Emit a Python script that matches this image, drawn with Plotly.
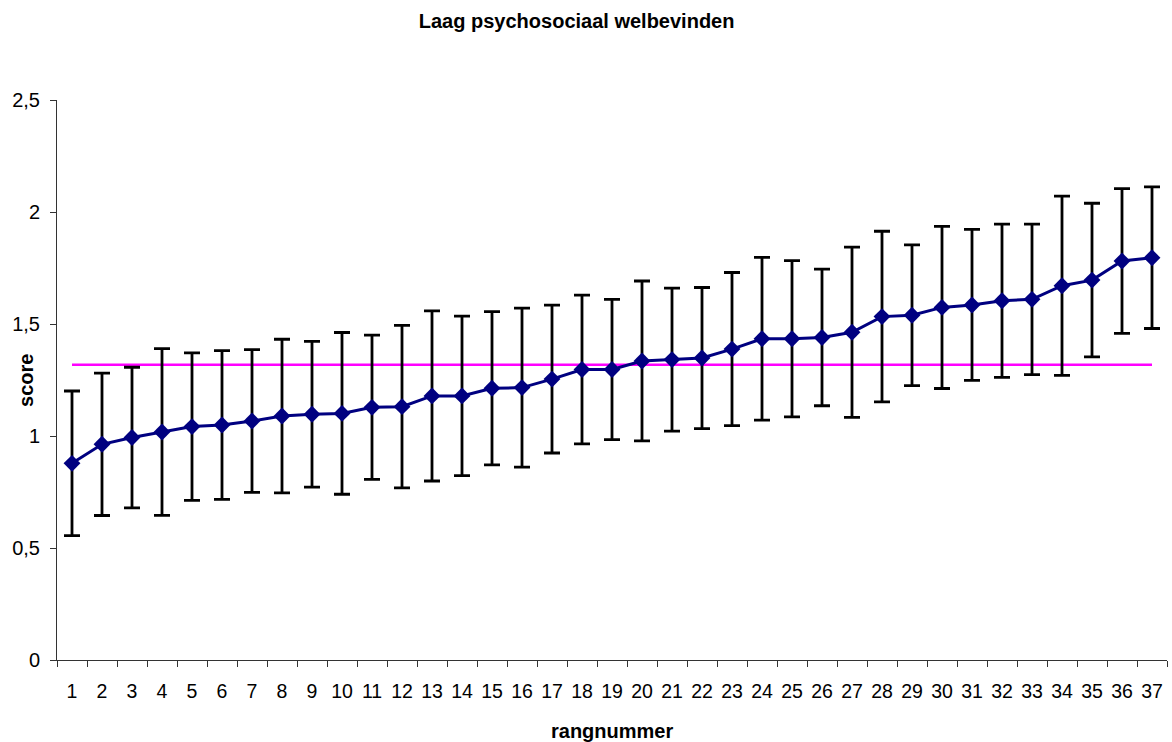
import plotly.graph_objects as go

# Rank numbers on the x axis
ranks = [str(i) for i in range(1, 38)]

# Mean score per rank
scores = [0.878, 0.963, 0.993, 1.018, 1.042, 1.049, 1.067, 1.089, 1.097, 1.101,
          1.128, 1.131, 1.179, 1.179, 1.213, 1.216, 1.254, 1.297, 1.297, 1.335,
          1.341, 1.348, 1.388, 1.434, 1.434, 1.440, 1.463, 1.533, 1.539, 1.574,
          1.585, 1.604, 1.610, 1.671, 1.696, 1.781, 1.796]

# Half-width of the error bar per rank
errors = [0.323, 0.318, 0.314, 0.372, 0.329, 0.332, 0.319, 0.343, 0.325, 0.361,
          0.322, 0.363, 0.380, 0.356, 0.342, 0.355, 0.330, 0.332, 0.313, 0.357,
          0.319, 0.315, 0.342, 0.363, 0.349, 0.305, 0.380, 0.381, 0.314, 0.362,
          0.337, 0.342, 0.336, 0.400, 0.343, 0.323, 0.316]

# Overall reference level
reference_level = 1.318

y_ticks = [0, 0.5, 1, 1.5, 2, 2.5]
y_tick_text = ["0", "0,5", "1", "1,5", "2", "2,5"]

font_family = "Liberation Sans, Arial, sans-serif"

fig = go.Figure()

fig.add_trace(go.Scatter(
    x=ranks,
    y=[reference_level] * len(ranks),
    mode="lines",
    line=dict(color="#FF00FF", width=2.5),
    hoverinfo="skip",
    showlegend=False,
))

fig.add_trace(go.Scatter(
    x=ranks,
    y=scores,
    mode="lines+markers",
    line=dict(color="#000080", width=3),
    marker=dict(symbol="diamond", size=13, color="#000080"),
    error_y=dict(type="data", array=errors, visible=True,
                 color="black", thickness=2.8, width=8),
    showlegend=False,
))

fig.update_layout(
    width=1172,
    height=742,
    margin=dict(l=57, r=5, t=100, b=82),
    paper_bgcolor="white",
    plot_bgcolor="white",
    font=dict(family=font_family, color="black", size=20),
    title=dict(
        text="<b>Laag psychosociaal welbevinden</b>",
        x=0.492, xanchor="center",
        y=0.972, yanchor="middle",
        font=dict(size=20, family=font_family),
    ),
    xaxis=dict(
        type="category",
        range=[-0.5, 36.5],
        tickson="boundaries",
        ticks="outside",
        ticklen=6,
        tickcolor="#333",
        showline=True,
        linecolor="#333",
        linewidth=1,
        showgrid=False,
        zeroline=False,
        tickangle=0,
        tickfont=dict(size=19.5),
        ticklabelstandoff=14,
    ),
    yaxis=dict(
        range=[0, 2.5],
        tickvals=y_ticks,
        ticktext=y_tick_text,
        ticks="outside",
        ticklen=6,
        tickcolor="#333",
        showline=True,
        linecolor="#333",
        linewidth=1,
        showgrid=False,
        zeroline=False,
        tickfont=dict(size=20),
        ticklabelstandoff=6,
    ),
    annotations=[
        dict(text="<b>rangnummer</b>", xref="paper", yref="paper",
             x=0.5, y=-0.127, xanchor="center", yanchor="middle",
             showarrow=False, font=dict(size=20)),
        dict(text="<b>score</b>", xref="paper", yref="paper",
             x=-0.028, y=0.5, xanchor="center", yanchor="middle",
             textangle=-90, showarrow=False, font=dict(size=20)),
    ],
)

fig.write_html("out.html")
